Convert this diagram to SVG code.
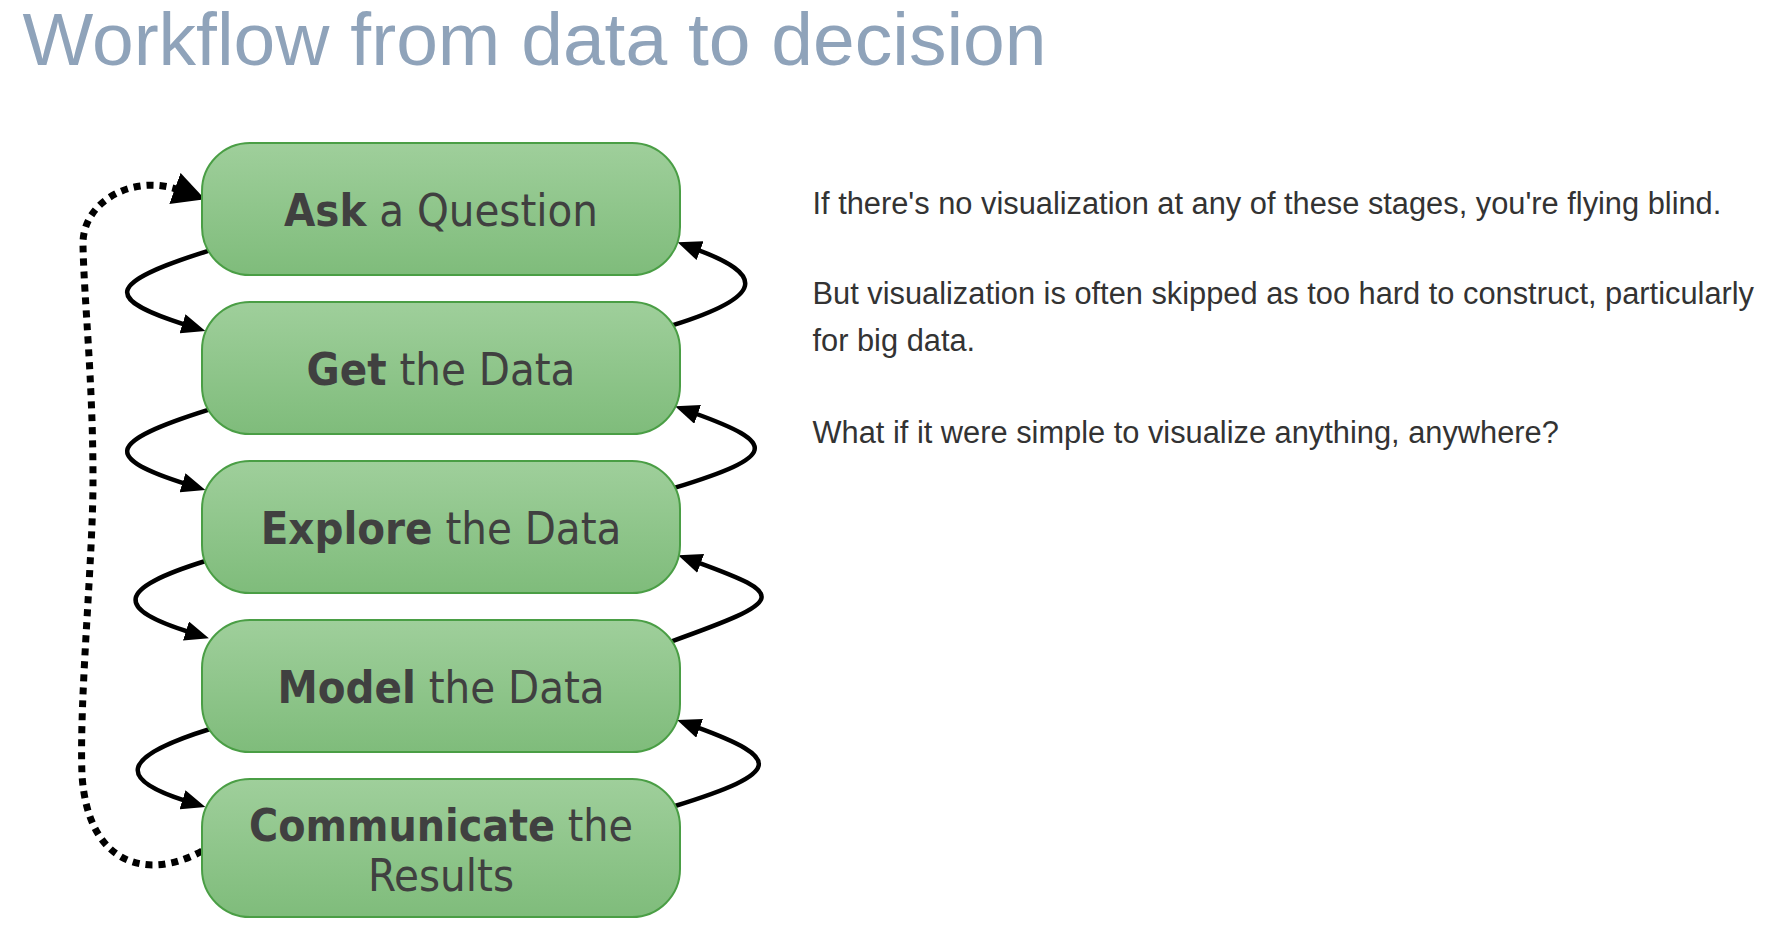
<svg xmlns="http://www.w3.org/2000/svg" width="1770" height="932" viewBox="0 0 1770 932">
  <defs>
    <linearGradient id="gfill" x1="0" y1="0" x2="0" y2="1">
      <stop offset="0" stop-color="#9fcf9b"/>
      <stop offset="1" stop-color="#7fbc7b"/>
    </linearGradient>
    <marker id="arr" viewBox="0 0 24 20" markerWidth="24" markerHeight="20" refX="4" refY="10" orient="auto" markerUnits="userSpaceOnUse">
      <path d="M0,0 L24,10 L0,20 z" fill="#000"/>
    </marker>
    <marker id="arrBig" viewBox="0 0 32 33" markerWidth="32" markerHeight="33" refX="4" refY="16.5" orient="auto" markerUnits="userSpaceOnUse">
      <path d="M0,0 L32,16.5 L0,33 z" fill="#000"/>
    </marker>
  </defs>
  <style>
    .title { font-family: "Liberation Sans", Arial, sans-serif; font-size: 75px; fill: #8fa3ba; }
    .body { font-family: "Liberation Sans", Arial, sans-serif; font-size: 30.8px; fill: #333333; }
    .box { fill: url(#gfill); stroke: #4a9e45; stroke-width: 2; }
    .lbl { font-family: "DejaVu Sans Condensed", "DejaVu Sans", sans-serif; font-stretch: condensed; font-size: 45px; fill: #404040; text-anchor: middle; }
    .b { font-weight: bold; }
    .conn { fill: none; stroke: #000; stroke-width: 4.5; }
    .dot { fill: none; stroke: #000; stroke-width: 7; stroke-dasharray: 7 6; }
  </style>
  <rect width="1770" height="932" fill="#ffffff"/>

  <text class="title" x="22.5" y="65">Workflow from data to decision</text>

  <g id="connectors">
    <path class="conn" d="M209,250.6 C104,283.5 104,299 186.3,325.05" marker-end="url(#arr)"/>
    <path class="conn" d="M209,409.6 C104,442.5 104,458 186.3,484.05" marker-end="url(#arr)"/>
    <path class="conn" d="M205.5,561 C115,589.1 115,608.8 189.8,632.25" marker-end="url(#arr)"/>
    <path class="conn" d="M210,729 C118,757.6 118,779.6 186.3,801.05" marker-end="url(#arr)"/>

    <path class="conn" d="M672.9,325.2 C765,296.4 765,274.8 696.3,249.3" marker-end="url(#arr)"/>
    <path class="conn" d="M675,487.7 C778,456.1 778,443.3 693.9,413" marker-end="url(#arr)"/>
    <path class="conn" d="M671.7,641.3 C787,600 787,595.05 696.9,562.1" marker-end="url(#arr)"/>
    <path class="conn" d="M675,806 C783,772.5 783,758.7 695.9,726.9" marker-end="url(#arr)"/>

    <path class="dot" d="M202,851 C150,880 88,868 82,775 C79,700 93,560 93,480 C93,380 84,300 83,245 C82,200 135,174 178.7,189.8" marker-end="url(#arrBig)"/>
  </g>

  <g id="node-ask">
    <rect class="box" x="202" y="143" width="478" height="132" rx="48" ry="48"/>
    <text class="lbl" x="441" y="225.5"><tspan class="b">Ask</tspan> a Question</text>
  </g>
  <g id="node-get">
    <rect class="box" x="202" y="302" width="478" height="132" rx="48" ry="48"/>
    <text class="lbl" x="441" y="384.5"><tspan class="b">Get</tspan> the Data</text>
  </g>
  <g id="node-explore">
    <rect class="box" x="202" y="461" width="478" height="132" rx="48" ry="48"/>
    <text class="lbl" x="441" y="543.5"><tspan class="b">Explore</tspan> the Data</text>
  </g>
  <g id="node-model">
    <rect class="box" x="202" y="620" width="478" height="132" rx="48" ry="48"/>
    <text class="lbl" x="441" y="702.5"><tspan class="b">Model</tspan> the Data</text>
  </g>
  <g id="node-communicate">
    <rect class="box" x="202" y="779" width="478" height="138" rx="48" ry="48"/>
    <text class="lbl" x="441" y="841" style="font-size:44.2px"><tspan class="b">Communicate</tspan> the</text>
    <text class="lbl" x="441" y="891">Results</text>
  </g>

  <g id="notes">
    <text class="body" x="812.5" y="213.5">If there's no visualization at any of these stages, you're flying blind.</text>
    <text class="body" x="812.5" y="304">But visualization is often skipped as too hard to construct, particularly</text>
    <text class="body" x="812.5" y="350.5">for big data.</text>
    <text class="body" x="812.5" y="442.5">What if it were simple to visualize anything, anywhere?</text>
  </g>
</svg>
